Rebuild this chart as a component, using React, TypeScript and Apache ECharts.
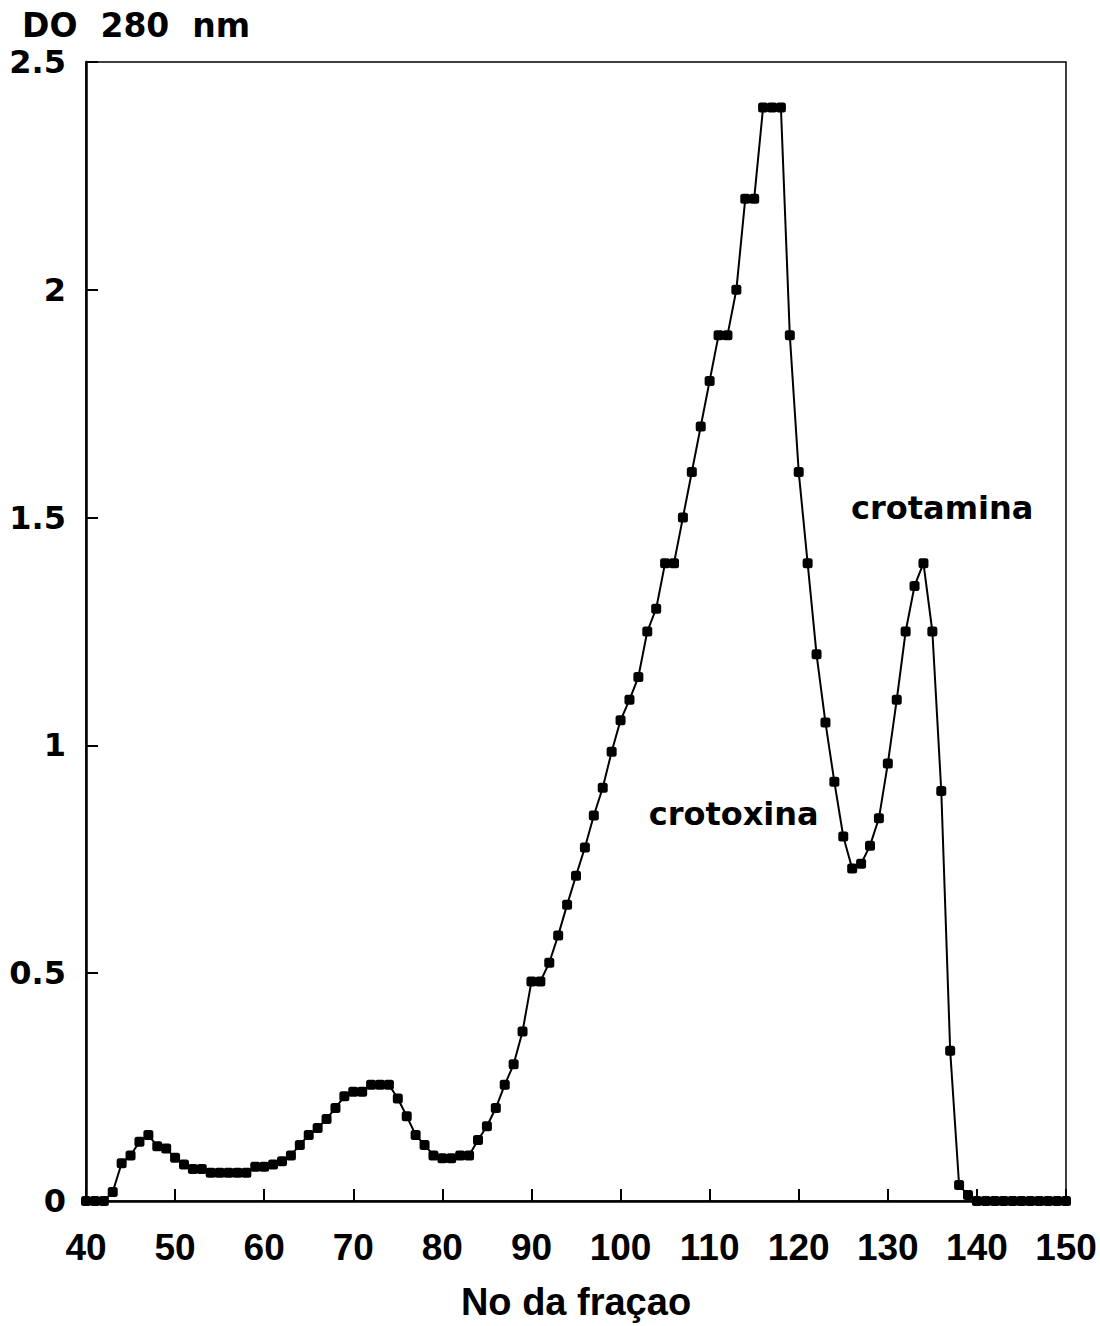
import React, { useEffect, useRef } from "react";
import * as echarts from "echarts";

const fractions: number[] = [
  40, 41, 42, 43, 44, 45, 46, 47, 48, 49,
  50, 51, 52, 53, 54, 55, 56, 57, 58, 59,
  60, 61, 62, 63, 64, 65, 66, 67, 68, 69,
  70, 71, 72, 73, 74, 75, 76, 77, 78, 79,
  80, 81, 82, 83, 84, 85, 86, 87, 88, 89,
  90, 91, 92, 93, 94, 95, 96, 97, 98, 99,
  100, 101, 102, 103, 104, 105, 106, 107, 108, 109,
  110, 111, 112, 113, 114, 115, 116, 117, 118, 119,
  120, 121, 122, 123, 124, 125, 126, 127, 128, 129,
  130, 131, 132, 133, 134, 135, 136, 137, 138, 139,
  140, 141, 142, 143, 144, 145, 146, 147, 148, 149, 150,
];

const absorbance: number[] = [
  0, 0, 0, 0.02, 0.083, 0.1, 0.13, 0.145, 0.12, 0.115,
  0.095, 0.08, 0.07, 0.07, 0.062, 0.062, 0.062, 0.062, 0.062, 0.075,
  0.075, 0.08, 0.087, 0.1, 0.123, 0.145, 0.16, 0.18, 0.204, 0.23,
  0.24, 0.24, 0.255, 0.255, 0.255, 0.225, 0.186, 0.145, 0.123, 0.1,
  0.094, 0.094, 0.1, 0.1, 0.134, 0.164, 0.204, 0.255, 0.3, 0.372,
  0.482, 0.482, 0.523, 0.583, 0.65, 0.714, 0.776, 0.846, 0.907, 0.986,
  1.055, 1.1, 1.15, 1.25, 1.3, 1.4, 1.4, 1.5, 1.6, 1.7,
  1.8, 1.9, 1.9, 2.0, 2.2, 2.2, 2.4, 2.4, 2.4, 1.9,
  1.6, 1.4, 1.2, 1.05, 0.92, 0.8, 0.73, 0.74, 0.78, 0.84,
  0.96, 1.1, 1.25, 1.35, 1.4, 1.25, 0.9, 0.33, 0.035, 0.013,
  0, 0, 0, 0, 0, 0, 0, 0, 0, 0, 0,
];

const yTitle = "DO  280  nm";
const xTitle = "No da fraçao";
const peakLabels: { text: string; frac: number; value: number }[] = [
  { text: "crotoxina", frac: 112.7, value: 0.85 },
  { text: "crotamina", frac: 136.1, value: 1.52 },
];

export default function App() {
  const ref = useRef<HTMLDivElement>(null);

  useEffect(() => {
    document.body.style.margin = "0";
    if (!ref.current) return;
    const chart = echarts.init(ref.current, undefined, { renderer: "svg" });
    const wideFont = "'DejaVu Sans', Verdana, sans-serif";
    const plainFont = "'Liberation Sans', Arial, sans-serif";
    const data = fractions.map((f, i) => [f, absorbance[i]]);

    chart.setOption({
      animation: false,
      backgroundColor: "#ffffff",
      grid: {
        left: 86,
        right: 34,
        top: 62,
        bottom: 123,
        show: true,
        borderColor: "#000",
        borderWidth: 1.5,
        backgroundColor: "transparent",
      },
      xAxis: {
        type: "value",
        min: 40,
        max: 150,
        interval: 10,
        name: xTitle,
        nameLocation: "middle",
        nameGap: 82,
        nameTextStyle: {
          fontFamily: plainFont,
          fontWeight: "bold",
          fontSize: 38,
          color: "#000",
        },
        axisLine: { show: true, lineStyle: { color: "#000", width: 2.5 } },
        axisTick: { show: true, inside: true, length: 12, lineStyle: { color: "#000", width: 2 } },
        axisLabel: {
          margin: 28,
          fontFamily: plainFont,
          fontWeight: "bold",
          fontSize: 37,
          color: "#000",
        },
        splitLine: { show: false },
      },
      yAxis: {
        type: "value",
        min: 0,
        max: 2.5,
        interval: 0.5,
        axisLine: { show: true, lineStyle: { color: "#000", width: 2.5 } },
        axisTick: { show: true, inside: true, length: 12, lineStyle: { color: "#000", width: 2 } },
        axisLabel: {
          margin: 20,
          fontFamily: wideFont,
          fontWeight: "bold",
          fontSize: 32,
          color: "#000",
        },
        splitLine: { show: false },
      },
      series: [
        {
          type: "line",
          data,
          symbol: "roundRect",
          symbolSize: 10,
          showSymbol: true,
          lineStyle: { color: "#000", width: 2 },
          itemStyle: { color: "#000" },
          z: 3,
        },
        {
          type: "scatter",
          data: peakLabels.map((p) => ({ value: [p.frac, p.value], name: p.text })),
          symbolSize: 0,
          label: {
            show: true,
            position: "inside",
            formatter: (p: any) => p.name,
            fontFamily: wideFont,
            fontWeight: "bold",
            fontSize: 32,
            color: "#000",
            textBorderWidth: 0,
          },
          itemStyle: { color: "#000", opacity: 1 },
          silent: true,
          z: 4,
        },
      ],
      graphic: [
        {
          type: "text",
          left: 22,
          top: 9,
          style: {
            text: yTitle,
            fontFamily: wideFont,
            fontWeight: "bold",
            fontSize: 33,
            fill: "#000",
          },
        },
      ],
    });

    return () => chart.dispose();
  }, []);

  return <div ref={ref} style={{ width: 1100, height: 1326 }} />;
}
